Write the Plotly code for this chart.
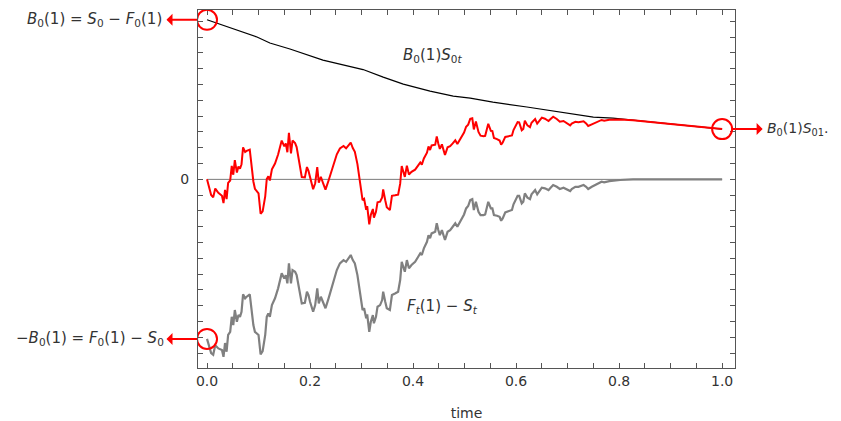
import numpy as np
import plotly.graph_objects as go

# ---- data ----
gray_t = [0.0, 0.008, 0.012, 0.016, 0.022, 0.029, 0.032, 0.035, 0.038, 0.041, 0.045, 0.048, 0.051, 0.054,
          0.058, 0.061, 0.064, 0.067, 0.070, 0.074, 0.077, 0.083, 0.090, 0.093, 0.100, 0.104, 0.108, 0.113,
          0.116, 0.119, 0.122, 0.126, 0.132, 0.138, 0.145, 0.150, 0.153, 0.156, 0.159, 0.163, 0.166, 0.171,
          0.174, 0.181, 0.184, 0.190, 0.194, 0.197, 0.200, 0.206, 0.210, 0.214, 0.217, 0.221, 0.226, 0.230,
          0.236, 0.239, 0.245, 0.249, 0.252, 0.258, 0.265, 0.270, 0.274, 0.279, 0.283, 0.287, 0.292, 0.297,
          0.302, 0.305, 0.309, 0.311, 0.315, 0.318, 0.322, 0.324, 0.328, 0.331, 0.336, 0.340, 0.342, 0.346,
          0.349, 0.355, 0.359, 0.365, 0.371, 0.375, 0.378, 0.381, 0.384, 0.388, 0.392, 0.397, 0.404, 0.410,
          0.414, 0.417, 0.421, 0.427, 0.430, 0.433, 0.436, 0.443, 0.446, 0.449, 0.452, 0.456, 0.462, 0.467,
          0.472, 0.477, 0.482, 0.486, 0.491, 0.495, 0.499, 0.503, 0.507, 0.511, 0.515, 0.518, 0.522, 0.527,
          0.531, 0.537, 0.540, 0.546, 0.551, 0.554, 0.557, 0.563, 0.568, 0.571, 0.574, 0.579, 0.585, 0.592,
          0.595, 0.598, 0.603, 0.606, 0.611, 0.614, 0.617, 0.622, 0.627, 0.630, 0.637, 0.641, 0.647, 0.650,
          0.656, 0.663, 0.667, 0.672, 0.679, 0.685, 0.692, 0.698, 0.705, 0.708, 0.715, 0.721, 0.726, 0.731,
          0.736, 0.740, 0.747, 0.753, 0.757, 0.762, 0.766, 0.771, 0.776, 0.781, 0.802, 0.827, 0.9, 1.0]
gray_v = [-10.1, -11.0, -11.1, -10.5, -10.7, -10.8, -11.23, -10.36, -10.91, -9.85, -9.65, -8.7, -9.22, -8.27,
          -9.01, -8.59, -8.7, -8.38, -7.28, -7.53, -7.43, -7.28, -9.22, -9.65, -9.85, -11.08, -10.87, -9.85,
          -8.7, -8.48, -8.7, -7.96, -7.53, -6.9, -5.95, -6.27, -6.06, -6.58, -5.32, -6.58, -5.74, -5.85,
          -6.06, -7.53, -7.85, -7.81, -7.11, -7.32, -7.75, -8.38, -7.96, -6.9, -7.85, -7.43, -7.85, -8.16,
          -7.53, -7.22, -6.48, -6.16, -5.74, -5.32, -5.11, -5.22, -5.0, -4.79, -5.11, -5.32, -6.06, -7.11,
          -8.27, -8.16, -8.8, -8.54, -9.65, -9.01, -8.59, -9.11, -8.7, -8.06, -7.96, -7.64, -7.11, -7.75,
          -8.16, -8.27, -7.32, -7.22, -7.11, -6.37, -5.22, -5.53, -5.85, -5.11, -5.63, -5.42, -5.22, -4.9,
          -4.68, -4.79, -4.37, -3.95, -3.53, -3.73, -3.42, -3.32, -2.78, -3.21, -3.53, -3.21, -3.84, -3.32,
          -3.21, -3.0, -2.78, -3.0, -2.7, -2.37, -2.22, -1.84, -1.69, -1.31, -1.25, -1.94, -1.42, -2.05,
          -2.26, -2.26, -2.22, -1.42, -1.84, -1.84, -2.26, -2.3, -2.37, -2.62, -2.47, -2.09, -2.01, -1.94,
          -1.58, -1.37, -1.04, -1.04, -1.52, -1.42, -0.89, -1.16, -1.25, -0.95, -0.68, -0.95, -0.68, -0.53,
          -0.57, -0.68, -0.53, -0.36, -0.47, -0.61, -0.53, -0.61, -0.74, -0.61, -0.47, -0.47, -0.41, -0.36,
          -0.47, -0.61, -0.47, -0.36, -0.32, -0.19, -0.15, -0.19, -0.15, -0.11, -0.04, 0.0, 0.0, 0.0]

black_t = [0.0, 0.045, 0.097, 0.122, 0.161, 0.225, 0.264, 0.303, 0.342, 0.381, 0.433, 0.478, 0.511,
           0.555, 0.621, 0.685, 0.750, 0.788, 1.0]
black_v = [10.1, 9.58, 9.01, 8.63, 8.25, 7.55, 7.23, 6.95, 6.47, 6.03, 5.59, 5.27, 5.14,
           4.89, 4.58, 4.26, 3.94, 3.87, 3.18]

x_major_step = 0.2
x_minor_step = 0.05
y_labelled = [0]
y_minor_step = 1

# red = B0(1)S0t + (Ft(1) - St)
red_v = np.interp(gray_t, black_t, black_v) + np.array(gray_v)

FONT = "DejaVu Sans"
TXT = "#333333"
AX = "#555555"

fig = go.Figure()
fig.add_shape(type="line", xref="x", yref="y", x0=gray_t[0], x1=gray_t[-1], y0=0, y1=0,
              line=dict(color="#7a7a7a", width=1), layer="below")
fig.add_trace(go.Scatter(x=black_t, y=black_v, mode="lines", line=dict(color="black", width=1.2)))
fig.add_trace(go.Scatter(x=gray_t, y=gray_v, mode="lines", line=dict(color="#808080", width=2.2)))
fig.add_trace(go.Scatter(x=gray_t, y=red_v, mode="lines", line=dict(color="#ff0000", width=2)))

B0 = black_v[0]
end_v = black_v[-1]
for (cx, cy) in [(0.0, B0), (0.0, -B0), (1.0, end_v)]:
    fig.add_shape(type="circle", xref="x", yref="y", xsizemode="pixel", ysizemode="pixel",
                  xanchor=cx, yanchor=cy, x0=-10, x1=10, y0=-10, y1=10,
                  line=dict(color="#ff0000", width=2))

arrow = dict(showarrow=True, text="", arrowcolor="#ff0000", arrowwidth=2, arrowhead=2,
             arrowsize=1, arrowside="start", standoff=10, xref="x", yref="y", ay=0)
fig.add_annotation(x=0.0, y=B0, ax=-42, **arrow)
fig.add_annotation(x=0.0, y=-B0, ax=-42, **arrow)
fig.add_annotation(x=1.0, y=end_v, ax=42, **arrow)

lab = dict(showarrow=False, xref="x", yref="y", font=dict(family=FONT, size=15, color=TXT))
fig.add_annotation(x=0.0, y=B0, xanchor="right", xshift=-43,
                   text="<i>B</i><sub>0</sub>(1) = <i>S</i><sub>0</sub> − <i>F</i><sub>0</sub>(1)", **lab)
fig.add_annotation(x=0.0, y=-B0, xanchor="right", xshift=-41,
                   text="−<i>B</i><sub>0</sub>(1) = <i>F</i><sub>0</sub>(1) − <i>S</i><sub>0</sub>", **lab)
fig.add_annotation(x=1.0, y=end_v, xanchor="left", xshift=43,
                   text="<i>B</i><sub>0</sub>(1)<i>S</i><sub>01</sub>.",
                   showarrow=False, xref="x", yref="y", font=dict(family=FONT, size=14, color=TXT))
fig.add_annotation(x=0.437, y=7.87, text="<i>B</i><sub>0</sub>(1)<i>S</i><sub>0<i>t</i></sub>", **lab)
fig.add_annotation(x=0.458, y=-8.07, text="<i>F<sub>t</sub></i>(1) − <i>S<sub>t</sub></i>", **lab)

axis_common = dict(showgrid=False, zeroline=False, showline=True, linecolor=AX, linewidth=1,
                   mirror="allticks", ticks="inside", ticklen=5, tickcolor=AX,
                   tickfont=dict(family=FONT, size=14, color=TXT))
fig.update_xaxes(range=[-0.0175, 1.025], tick0=0, dtick=x_major_step, tickformat=".1f",
                 minor=dict(tick0=0, dtick=x_minor_step, ticks="inside", ticklen=5, tickcolor=AX,
                            showgrid=False),
                 title=dict(text="time", font=dict(family=FONT, size=14, color=TXT), standoff=20),
                 **axis_common)
fig.update_yaxes(range=[-11.94, 10.72], tickmode="array", tickvals=y_labelled,
                 ticklabelstandoff=5,
                 minor=dict(tick0=0, dtick=y_minor_step, ticks="inside", ticklen=5, tickcolor=AX,
                            showgrid=False),
                 **axis_common)

# the page body adds an 8 px offset, so the figure is 8 px smaller than the window
fig.update_layout(width=833, height=413, margin=dict(l=190, r=106, t=2, b=53),
                  paper_bgcolor="white", plot_bgcolor="white", showlegend=False,
                  font=dict(family=FONT, color=TXT))
fig.write_html("out.html")
